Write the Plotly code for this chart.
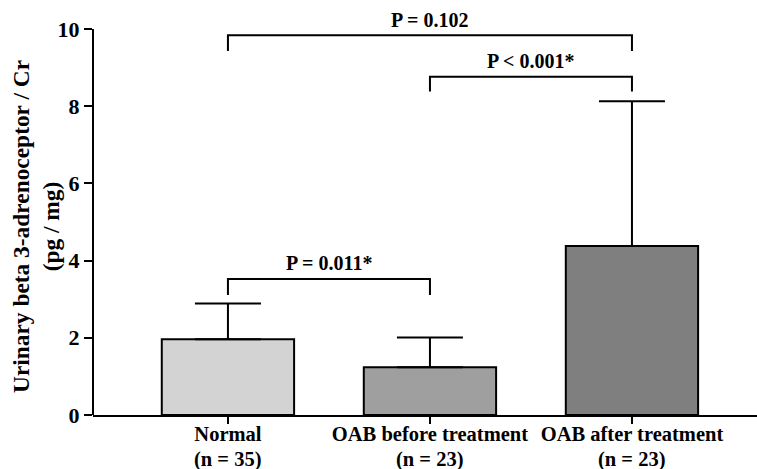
import plotly.graph_objects as go

categories = ["Normal", "OAB before treatment", "OAB after treatment"]
group_sizes = ["n = 35", "n = 23", "n = 23"]
means = [1.96, 1.24, 4.38]
sd_upper = [0.93, 0.77, 3.75]
bar_colors = ["#d3d3d3", "#9f9f9f", "#7f7f7f"]

# comparisons: (left index, right index, label, bracket top, leg bottom, label y)
cmp_left = [0, 1, 0]
cmp_right = [1, 2, 2]
cmp_label = ["P = 0.011*", "P < 0.001*", "P = 0.102"]
cmp_top = [3.52, 8.76, 9.84]
cmp_leg = [3.11, 8.38, 9.43]
cmp_text_y = [3.94, 9.17, 10.24]

y_ticks = [0, 2, 4, 6, 8, 10]
y_title = "Urinary beta 3-adrenoceptor / Cr<br>(pg / mg)"

FONT = "Liberation Serif, Times New Roman, serif"

x_pos = list(range(len(categories)))

fig = go.Figure()
fig.add_trace(go.Bar(
    x=x_pos, y=means, width=0.655,
    marker=dict(color=bar_colors, line=dict(color="black", width=2)),
    error_y=dict(type="data", array=sd_upper, arrayminus=[0] * len(means),
                 symmetric=False, color="black", thickness=2, width=33),
    showlegend=False, hoverinfo="skip",
))

for l, r, lab, top, leg, ty in zip(cmp_left, cmp_right, cmp_label, cmp_top, cmp_leg, cmp_text_y):
    fig.add_shape(type="path",
                  path=f"M {x_pos[l]} {leg} L {x_pos[l]} {top} L {x_pos[r]} {top} L {x_pos[r]} {leg}",
                  xref="x", yref="y", line=dict(color="black", width=2))
    fig.add_annotation(x=(x_pos[l] + x_pos[r]) / 2, y=ty, xref="x", yref="y",
                       text=lab, showarrow=False, yanchor="middle",
                       font=dict(family=FONT, size=20, color="black", weight="bold"))

# second line of category labels: group sizes
for xp, n in zip(x_pos, group_sizes):
    fig.add_annotation(x=xp, y=0, xref="x", yref="paper", yshift=-44,
                       text=f"({n})", showarrow=False, yanchor="middle",
                       font=dict(family=FONT, size=20.5, color="black", weight="bold"))

# y-axis title as rotated text
fig.add_annotation(x=0, y=0.453, xref="paper", yref="paper", xshift=-57,
                   text=y_title, showarrow=False, textangle=-90,
                   xanchor="center", yanchor="middle",
                   font=dict(family=FONT, size=23.4, color="black", weight="bold"))

# y-axis line from 0 to 10
fig.add_shape(type="line", xref="paper", yref="y", x0=0, x1=0, y0=0, y1=y_ticks[-1],
              line=dict(color="black", width=2))

fig.update_layout(
    width=757, height=469,
    margin=dict(l=93, r=0, t=0, b=54),
    paper_bgcolor="white", plot_bgcolor="white",
    font=dict(family=FONT, size=20, color="black", weight="bold"),
    xaxis=dict(range=[-0.668, 2.619], tickvals=x_pos, ticktext=categories,
               showline=True, linecolor="black", linewidth=2,
               ticks="outside", ticklen=7, tickwidth=2, tickcolor="black",
               ticklabelstandoff=-8,
               showgrid=False, zeroline=False, automargin=False,
               tickfont=dict(family=FONT, size=20.5, color="black", weight="bold")),
    yaxis=dict(range=[0, 10.75], tickvals=y_ticks, showline=False,
               ticks="outside", ticklen=8, tickwidth=2, tickcolor="black",
               showgrid=False, zeroline=False, automargin=False,
               tickfont=dict(family=FONT, size=22, color="black", weight="bold")),
)

fig.write_html("out.html", config={"displayModeBar": False},
               post_script="document.body.style.margin='0';")
